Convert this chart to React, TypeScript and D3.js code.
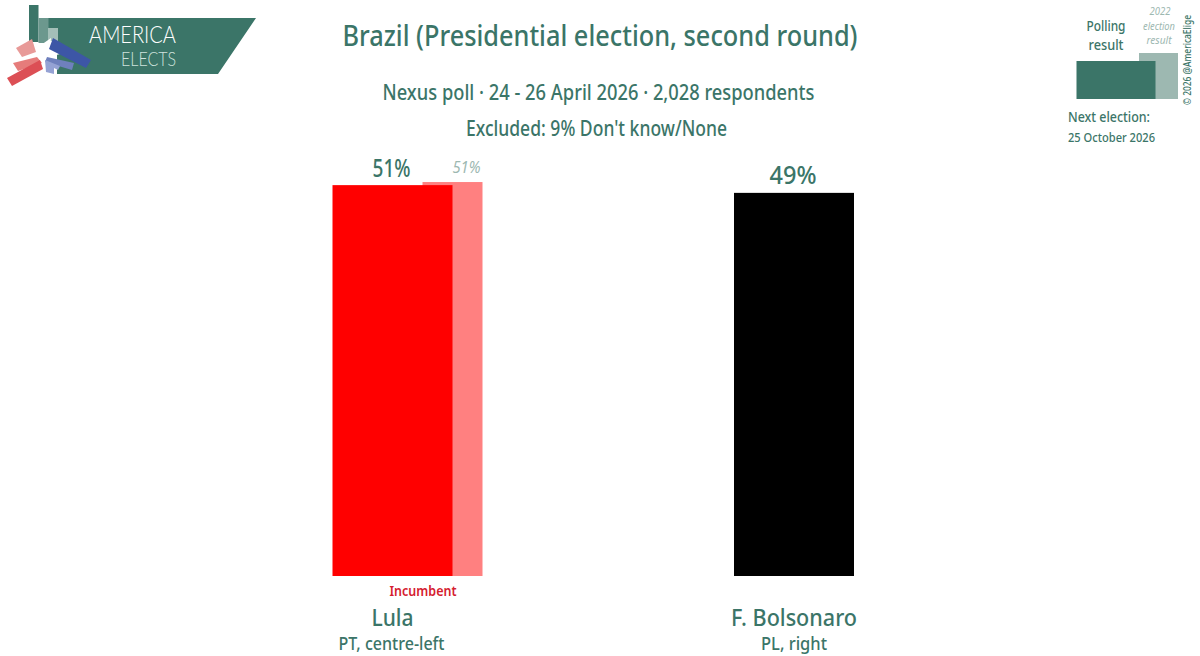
import * as d3 from 'd3';

const candidates = ['Lula', 'F. Bolsonaro'];
const parties = ['PT, centre-left', 'PL, right'];
const pollValues = [50.5, 49.5];
const pollLabels = ['51%', '49%'];
const barColors = ['#ff0000', '#000000'];
const previousValues = [50.9, null];
const previousLabels = ['51%', null];
const previousColors = ['#ff8080', null];

const TEAL = '#3b7568';
const GREY_TEAL = '#9db8b1';
const FONT = '"Noto Sans", sans-serif';

const width = 1200;
const height = 656;
const baseY = 576;

const x = d3.scalePoint<string>().domain(candidates).range([392.5, 794]);
const y = d3.scaleLinear().domain([0, 100]).range([baseY, baseY - 774]);
const barW = 120;

// squeezes the fallback font to the width the label has in the chart
function Label({ x, y, size, w, children, anchor = 'middle', fill = TEAL, weight = 500, italic = false, opacity = 1 }: any) {
  return (
    <text
      x={x}
      y={y}
      fontSize={size}
      fontWeight={weight}
      fontStyle={italic ? 'italic' : 'normal'}
      fontFamily={FONT}
      fill={fill}
      opacity={opacity}
      textAnchor={anchor}
      textLength={w}
      lengthAdjust="spacingAndGlyphs"
    >
      {children}
    </text>
  );
}

function Logo() {
  return (
    <g>
      <polygon points="48,18 256,18 218,74 57,74 57,40 48,40" fill={TEAL} />
      <rect x={29} y={5} width={9.5} height={37} fill={TEAL} />
      <rect x={38.5} y={18} width={10} height={25} fill="#6c988e" />
      <rect x={48} y={28} width={10} height={13} fill="#a3bfb8" />
      <polygon points="33,42 41,45 51,38 50,48 60,54 49,57 46,70 38,60 27,58 36,50" fill="#ffffff" />
      <polygon points="16,48 32,39 36,52 22,57" fill="#e89a98" />
      <polygon points="13,63 37,57 42,63 18,71" fill="#e67c7b" />
      <polygon points="7,78 40,60 43,69 12,86" fill="#dc4f55" />
      <polygon points="53,38 91,60 86,68 49,49" fill="#3d56a6" />
      <polygon points="47,57 74,63 72,70 45,62" fill="#6f80bd" />
      <polygon points="45,60 60,66 58,70 54,68 54,74 46,72" fill="#95a2d4" />
      <text x={89} y={43} fontFamily='Lato, sans-serif' fontWeight={300} fontSize={24} fill="#ffffff" textLength={87} lengthAdjust="spacingAndGlyphs">AMERICA</text>
      <text x={121} y={66} fontFamily='Lato, sans-serif' fontWeight={300} fontSize={19} fill="#cfe3dd" textLength={55} lengthAdjust="spacingAndGlyphs">ELECTS</text>
    </g>
  );
}

function LegendKey() {
  return (
    <g>
      <rect x={1139} y={53} width={39} height={46} fill={GREY_TEAL} />
      <rect x={1076.5} y={61} width={79} height={38} fill={TEAL} />
      <Label x={1106} y={31} size={15} w={39}>Polling</Label>
      <Label x={1106} y={50} size={15} w={35}>result</Label>
      <Label x={1160} y={15} size={11} w={21} fill={GREY_TEAL} italic weight={400}>2022</Label>
      <Label x={1159} y={30} size={11} w={32} fill={GREY_TEAL} italic weight={400}>election</Label>
      <Label x={1159} y={44} size={11} w={25} fill={GREY_TEAL} italic weight={400}>result</Label>
      <Label x={1068} y={122} size={15} w={82} anchor="start">Next election:</Label>
      <Label x={1068} y={142} size={13} w={87} anchor="start">25 October 2026</Label>
      <g transform="translate(1191,105) rotate(-90)">
        <Label x={0} y={0} size={10} w={90} anchor="start">© 2026 @AmericaElige</Label>
      </g>
    </g>
  );
}

export default function App() {
  return (
    <svg
      width={width}
      height={height}
      viewBox={`0 0 ${width} ${height}`}
      style={{ position: 'absolute', left: 0, top: 0, background: '#fff' }}
    >
      <Logo />
      <LegendKey />

      <Label x={600} y={46} size={29} w={515}>Brazil (Presidential election, second round)</Label>
      <Label x={598.5} y={100} size={21} w={432}>Nexus poll · 24 - 26 April 2026 · 2,028 respondents</Label>
      <Label x={596.5} y={136} size={21} w={261}>Excluded: 9% Don't know/None</Label>

      {candidates.map((name, i) => {
        const cx = x(name) as number;
        const prev = previousValues[i];
        return (
          <g key={name}>
            {prev !== null && (
              <>
                <rect x={cx + 30} y={y(prev)} width={barW / 2} height={baseY - y(prev)} fill={previousColors[i] as string} />
                <Label x={cx + 74} y={173} size={17} w={28} fill={GREY_TEAL} italic weight={400}>{previousLabels[i]}</Label>
              </>
            )}
            <rect x={cx - barW / 2} y={y(pollValues[i])} width={barW} height={baseY - y(pollValues[i])} fill={barColors[i]} />
            <Label x={cx - 1} y={y(pollValues[i]) - 8.5} size={26} w={i === 0 ? 38 : 47}>{pollLabels[i]}</Label>
            <Label x={cx} y={626} size={24} w={i === 0 ? 42 : 126}>{name}</Label>
            <Label x={cx - (i === 0 ? 1 : 0)} y={650} size={18} w={i === 0 ? 106 : 66}>{parties[i]}</Label>
          </g>
        );
      })}

      <Label x={423} y={596} size={15} w={67} fill="#d5202f" weight={600}>Incumbent</Label>
    </svg>
  );
}
